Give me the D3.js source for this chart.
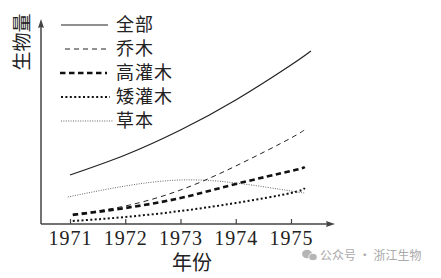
<!DOCTYPE html>
<html><head><meta charset="utf-8">
<script src="https://cdn.jsdelivr.net/npm/d3@7"></script>
<style>html,body{margin:0;padding:0;background:#fff;}svg{display:block;}</style>
</head><body>
<script>
// Data (arbitrary biomass units)
const tickYears = [1971, 1972, 1973, 1974, 1975];
const seriesNames = ["全部", "乔木", "高灌木", "矮灌木", "草本"];
const yearsAll = [1971, 1972, 1973, 1974, 1975, 1975.36];
const valuesAll = [49, 69, 94, 124, 159, 173];
const yearsTree = [1971.05, 1972, 1973, 1974, 1975, 1975.28];
const valuesTree = [10, 18, 34, 58, 86, 96];
const yearsTall = [1971.05, 1972, 1973, 1974, 1975, 1975.25];
const valuesTall = [9, 16, 26, 40, 53, 57];
const yearsShort = [1971.05, 1972, 1973, 1974, 1975, 1975.25];
const valuesShort = [3, 7, 13, 21, 31, 36];
const yearsHerb = [1970.96, 1972, 1973, 1974, 1975, 1975.25];
const valuesHerb = [27, 38, 44, 41, 33, 31];

const W = 441, H = 278;
const svg = d3.select("body").append("svg").attr("width", W).attr("height", H);

const x = d3.scaleLinear().domain([1971, 1975]).range([70, 291]);
const y = d3.scaleLinear().domain([0, 204]).range([224, 20]);
const x0 = 41, yBase = y(0);

const styles = [
  {w: 1.2, dash: null, color: "#222"},
  {w: 1, dash: "5,4", color: "#222"},
  {w: 2.6, dash: "5.5,3.5", color: "#111"},
  {w: 2, dash: "2,2.4", color: "#111"},
  {w: 0.9, dash: "1,1.4", color: "#555"}
];
const data = [
  d3.zip(yearsAll, valuesAll),
  d3.zip(yearsTree, valuesTree),
  d3.zip(yearsTall, valuesTall),
  d3.zip(yearsShort, valuesShort),
  d3.zip(yearsHerb, valuesHerb)
];

const line = d3.line().x(d => x(d[0])).y(d => y(d[1])).curve(d3.curveNatural);

data.forEach((d, i) => {
  svg.append("path").attr("d", line(d)).attr("fill", "none")
    .attr("stroke", styles[i].color).attr("stroke-width", styles[i].w)
    .attr("stroke-dasharray", styles[i].dash);
});

// Axes
const axisColor = "#444";
svg.append("line").attr("x1", x0).attr("y1", yBase).attr("x2", 332).attr("y2", yBase)
  .attr("stroke", axisColor).attr("stroke-width", 1.5);
svg.append("line").attr("x1", x0).attr("y1", yBase).attr("x2", x0).attr("y2", 24)
  .attr("stroke", axisColor).attr("stroke-width", 1.5);
svg.append("path").attr("d", `M335,${yBase} L326,${yBase-3} L327,${yBase} L326,${yBase+3} Z`).attr("fill", axisColor);
svg.append("path").attr("d", `M${x0},19 L${x0-3},28 L${x0},27 L${x0+3},28 Z`).attr("fill", axisColor);

const xAxis = d3.axisBottom(x).tickValues(tickYears).tickFormat(d3.format("d")).tickSize(0).tickPadding(0);
const gx = svg.append("g").attr("transform", `translate(0,${yBase})`).call(xAxis);
gx.select(".domain").remove();
gx.selectAll(".tick").append("line").attr("y1", 0).attr("y2", -5).attr("stroke", axisColor).attr("stroke-width", 1.2);
gx.selectAll(".tick text").attr("y", 21).attr("dy", 0)
  .attr("font-family", "'Liberation Serif','DejaVu Serif',serif").attr("font-size", 20)
  .attr("letter-spacing", 1).attr("fill", "#222");

// Axis titles
svg.append("text").attr("x", 192).attr("y", 270).attr("text-anchor", "middle")
  .attr("font-family", "'Noto Sans CJK SC'").attr("font-size", 20).attr("fill", "#222").text("年份");
svg.append("text").attr("transform", "translate(29,42) rotate(-90)").attr("text-anchor", "middle")
  .attr("font-family", "'Noto Sans CJK SC'").attr("font-size", 19).attr("fill", "#222").text("生物量");

// Legend
const legY = [25, 49, 73, 97, 121];
const legX1 = [61, 65, 60, 61, 61], legX2 = [108, 108, 107, 110, 113];
seriesNames.forEach((n, i) => {
  svg.append("line").attr("x1", legX1[i]).attr("x2", legX2[i]).attr("y1", legY[i]).attr("y2", legY[i])
    .attr("stroke", styles[i].color).attr("stroke-width", styles[i].w)
    .attr("stroke-dasharray", styles[i].dash);
  svg.append("text").attr("x", 116).attr("y", legY[i] + 6).attr("font-family", "'Noto Sans CJK SC'")
    .attr("font-size", 18).attr("letter-spacing", 1).attr("fill", "#222").text(n);
});

// Watermark
const wm = svg.append("g").attr("fill", "#b5b5b5");
wm.append("ellipse").attr("cx", 307).attr("cy", 254).attr("rx", 5).attr("ry", 4.2);
wm.append("ellipse").attr("cx", 313).attr("cy", 257).attr("rx", 4.2).attr("ry", 3.6).attr("stroke", "#fff").attr("stroke-width", 0.8);
svg.append("text").attr("x", 320).attr("y", 260).attr("font-family", "'Noto Sans CJK SC'")
  .attr("font-size", 12).attr("fill", "#aaa").text("公众号 · 浙江生物");
</script>
</body></html>
